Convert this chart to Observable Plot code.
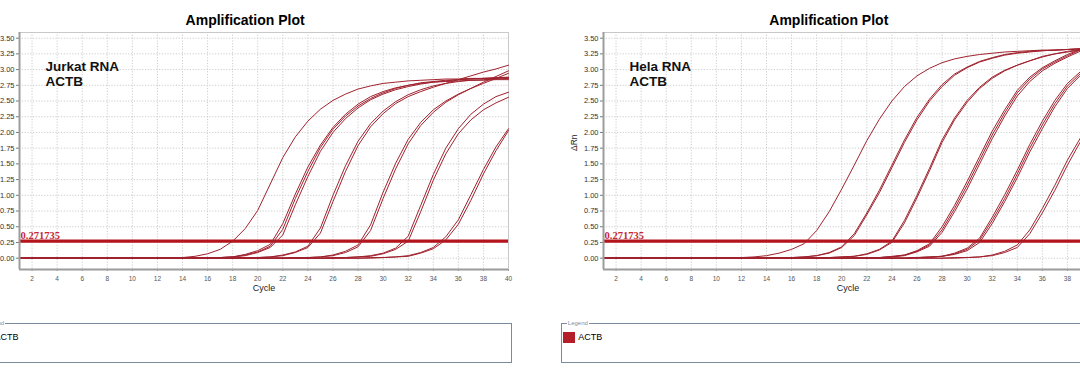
<!DOCTYPE html>
<html>
<head>
<meta charset="utf-8">
<script src="https://cdn.jsdelivr.net/npm/d3@7"></script>
<script src="https://cdn.jsdelivr.net/npm/@observablehq/plot@0.6"></script>
<style>
  html, body { margin: 0; padding: 0; background: #fff; }
  body { width: 1080px; height: 373px; overflow: hidden; position: relative; font-family: "Liberation Sans", Arial, sans-serif; }
  .panel { position: absolute; top: 0; width: 545px; height: 373px; }
  .panel svg { position: absolute; left: 0; top: 0; }
  .title { position: absolute; top: 13px; width: 240px; margin-left: -120px; text-align: center; font-weight: bold; font-size: 14px; line-height: 14px; color: #000; }
  .legend { position: absolute; top: 323px; width: 535px; height: 40px; box-sizing: border-box; border: 1px solid #7b8b9b; background: #fff; }
  .legend .cap { position: absolute; left: 5px; top: -5px; font-size: 6px; line-height: 8px; color: #7f8f9f; background: #fff; padding: 0 1px; }
  .legend .swatch { position: absolute; left: 1.5px; top: 7.5px; width: 11.5px; height: 11.5px; background: #b41e28; }
  .legend .name { position: absolute; left: 16.5px; top: 8px; font-size: 9px; line-height: 11px; color: #000; }
</style>
</head>
<body>
<script>
// ---- data ----
const cycles = [1,2,3,4,5,6,7,8,9,10,11,12,13,14,15,16,17,18,19,20,21,22,23,24,25,26,27,28,29,30,31,32,33,34,35,36,37,38,39,40];
const xTicks = [2,4,6,8,10,12,14,16,18,20,22,24,26,28,30,32,34,36,38,40];
const yTicks = [0,0.25,0.5,0.75,1,1.25,1.5,1.75,2,2.25,2.5,2.75,3,3.25,3.5];
const threshold = 0.271735;
const panelTitle = "Amplification Plot";
const xLabel = "Cycle";
const yLabel = "ΔRn";
const target = "ACTB";
const legendCaption = "Legend";
const labelJurkat = ["Jurkat RNA", "ACTB"];
const labelHela = ["Hela RNA", "ACTB"];

// Jurkat RNA, ACTB — ΔRn per cycle (1..40)
const jurkat01 = [0,0,0,0,0,0,0,0,0,0, 0,0,0.01,0.01,0.03,0.07,0.14,0.27,0.47,0.76, 1.18,1.60,1.93,2.18,2.37,2.51,2.61,2.69,2.74,2.78, 2.80,2.82,2.83,2.84,2.85,2.85,2.86,2.86,2.87,2.87];
const jurkat02 = [0,0,0,0,0,0,0,0,0,0, 0,0,0,0,0,0.01,0.01,0.02,0.06,0.12, 0.22,0.55,1.02,1.45,1.80,2.08,2.29,2.45,2.57,2.65, 2.71,2.75,2.78,2.80,2.81,2.82,2.83,2.83,2.84,2.84];
const jurkat03 = [0,0,0,0,0,0,0,0,0,0, 0,0,0,0,0,0.01,0.01,0.02,0.05,0.10, 0.19,0.46,0.95,1.38,1.76,2.05,2.26,2.42,2.54,2.63, 2.70,2.75,2.79,2.81,2.83,2.84,2.85,2.86,2.86,2.87];
const jurkat04 = [0,0,0,0,0,0,0,0,0,0, 0,0,0,0,0,0.01,0.01,0.02,0.04,0.09, 0.17,0.37,0.85,1.30,1.70,2.00,2.22,2.39,2.52,2.61, 2.68,2.73,2.77,2.80,2.82,2.84,2.85,2.86,2.87,2.88];
const jurkat05 = [0,0,0,0,0,0,0,0,0,0, 0,0,0,0,0,0,0,0,0.01,0.01, 0.02,0.05,0.10,0.19,0.48,1.00,1.47,1.86,2.14,2.34, 2.49,2.60,2.68,2.74,2.78,2.81,2.83,2.84,2.85,2.86];
const jurkat06 = [0,0,0,0,0,0,0,0,0,0, 0,0,0,0,0,0,0,0,0.01,0.01, 0.02,0.04,0.09,0.17,0.40,0.90,1.38,1.79,2.09,2.30, 2.46,2.57,2.65,2.72,2.78,2.84,2.90,2.96,3.01,3.07];
const jurkat07 = [0,0,0,0,0,0,0,0,0,0, 0,0,0,0,0,0,0,0,0,0, 0,0,0.01,0.01,0.02,0.05,0.11,0.21,0.53,1.05, 1.51,1.89,2.16,2.36,2.50,2.61,2.70,2.78,2.86,2.94];
const jurkat08 = [0,0,0,0,0,0,0,0,0,0, 0,0,0,0,0,0,0,0,0,0, 0,0,0.01,0.01,0.02,0.04,0.09,0.18,0.44,0.95, 1.42,1.82,2.11,2.32,2.48,2.60,2.70,2.80,2.89,2.98];
const jurkat09 = [0,0,0,0,0,0,0,0,0,0, 0,0,0,0,0,0,0,0,0,0, 0,0,0,0,0,0.01,0.01,0.02,0.04,0.08, 0.16,0.35,0.84,1.33,1.75,2.06,2.29,2.45,2.57,2.64];
const jurkat10 = [0,0,0,0,0,0,0,0,0,0, 0,0,0,0,0,0,0,0,0,0, 0,0,0,0,0,0,0.01,0.02,0.03,0.07, 0.14,0.27,0.74,1.24,1.66,1.98,2.20,2.36,2.47,2.56];
const jurkat11 = [0,0,0,0,0,0,0,0,0,0, 0,0,0,0,0,0,0,0,0,0, 0,0,0,0,0,0,0,0,0.01,0.01, 0.02,0.04,0.09,0.17,0.34,0.61,1.01,1.41,1.77,2.06];
const jurkat12 = [0,0,0,0,0,0,0,0,0,0, 0,0,0,0,0,0,0,0,0,0, 0,0,0,0,0,0,0,0,0,0.01, 0.02,0.03,0.08,0.15,0.29,0.54,0.92,1.34,1.71,2.03];

// Hela RNA, ACTB — ΔRn per cycle (1..40)
const hela01 = [0,0,0,0,0,0,0,0,0,0.01, 0.01,0.01,0.02,0.04,0.08,0.14,0.23,0.44,0.74,1.10, 1.48,1.87,2.21,2.50,2.73,2.90,3.02,3.11,3.17,3.21, 3.24,3.26,3.28,3.29,3.30,3.31,3.31,3.32,3.33,3.33];
const hela02 = [0,0,0,0,0,0,0,0,0,0, 0,0,0,0,0.01,0.01,0.02,0.04,0.09,0.18, 0.39,0.72,1.08,1.48,1.88,2.24,2.53,2.76,2.93,3.04, 3.13,3.19,3.24,3.27,3.29,3.30,3.31,3.32,3.33,3.33];
const hela03 = [0,0,0,0,0,0,0,0,0,0, 0,0,0,0,0.01,0.01,0.02,0.04,0.08,0.17, 0.36,0.69,1.04,1.44,1.84,2.20,2.50,2.73,2.91,3.03, 3.12,3.18,3.23,3.26,3.28,3.30,3.31,3.32,3.33,3.34];
const hela04 = [0,0,0,0,0,0,0,0,0,0, 0,0,0,0,0,0,0,0,0.01,0.02, 0.03,0.07,0.14,0.27,0.60,1.00,1.43,1.88,2.23,2.51, 2.72,2.88,2.99,3.07,3.14,3.21,3.25,3.28,3.31,3.33];
const hela05 = [0,0,0,0,0,0,0,0,0,0, 0,0,0,0,0,0,0,0,0.01,0.02, 0.03,0.06,0.13,0.25,0.56,0.96,1.39,1.84,2.20,2.48, 2.70,2.86,2.98,3.07,3.14,3.20,3.25,3.29,3.32,3.34];
const hela06 = [0,0,0,0,0,0,0,0,0,0, 0,0,0,0,0,0,0,0,0,0, 0,0.01,0.01,0.03,0.05,0.12,0.23,0.50,0.84,1.22, 1.62,2.02,2.36,2.67,2.88,3.03,3.14,3.24,3.32,3.36];
const hela07 = [0,0,0,0,0,0,0,0,0,0, 0,0,0,0,0,0,0,0,0,0, 0,0.01,0.01,0.02,0.05,0.11,0.21,0.45,0.79,1.16, 1.56,1.96,2.31,2.63,2.85,3.01,3.12,3.22,3.31,3.35];
const hela08 = [0,0,0,0,0,0,0,0,0,0, 0,0,0,0,0,0,0,0,0,0, 0,0.01,0.01,0.02,0.04,0.10,0.19,0.41,0.74,1.10, 1.50,1.90,2.26,2.58,2.81,2.98,3.10,3.20,3.29,3.34];
const hela09 = [0,0,0,0,0,0,0,0,0,0, 0,0,0,0,0,0,0,0,0,0, 0,0,0,0,0,0.01,0.02,0.03,0.08,0.16, 0.32,0.65,1.01,1.40,1.81,2.18,2.51,2.78,2.96,3.08];
const hela10 = [0,0,0,0,0,0,0,0,0,0, 0,0,0,0,0,0,0,0,0,0, 0,0,0,0,0,0.01,0.02,0.03,0.07,0.14, 0.29,0.60,0.95,1.34,1.75,2.12,2.46,2.74,2.93,3.06];
const hela11 = [0,0,0,0,0,0,0,0,0,0, 0,0,0,0,0,0,0,0,0,0, 0,0,0,0,0,0.01,0.01,0.03,0.06,0.12, 0.25,0.55,0.90,1.28,1.69,2.06,2.41,2.70,2.90,3.03];
const hela12 = [0,0,0,0,0,0,0,0,0,0, 0,0,0,0,0,0,0,0,0,0, 0,0,0,0,0,0,0,0,0.01,0.01, 0.02,0.05,0.11,0.21,0.45,0.79,1.16,1.56,1.90,2.28];
const hela13 = [0,0,0,0,0,0,0,0,0,0, 0,0,0,0,0,0,0,0,0,0, 0,0,0,0,0,0,0,0,0,0.01, 0.02,0.04,0.09,0.17,0.39,0.72,1.08,1.48,1.84,2.20];

const jurkatWells = [jurkat01, jurkat02, jurkat03, jurkat04, jurkat05, jurkat06, jurkat07, jurkat08, jurkat09, jurkat10, jurkat11, jurkat12];
const helaWells = [hela01, hela02, hela03, hela04, hela05, hela06, hela07, hela08, hela09, hela10, hela11, hela12, hela13];

// ---- drawing ----
const curveColor = "#a0222e";
const thresholdColor = "#b5141c";
const gridStyle = {stroke: "#cccccc", strokeOpacity: 1, strokeDasharray: "1.2,1.6"};

function tableOf(wells) {
  return wells.flatMap((vals, w) => vals.map((v, i) => ({cycle: cycles[i], dRn: v, well: w})));
}

function drawPanel(wells, label, leftPx) {
  const yMin = -0.18;
  const chart = Plot.plot({
    width: 545, height: 300,
    marginLeft: 45, marginRight: 11, marginTop: 32, marginBottom: 31,
    style: {fontFamily: "'Liberation Sans', Arial, sans-serif", background: "transparent", color: "#333", overflow: "visible"},
    x: {domain: [cycles[0], cycles[cycles.length - 1]]},
    y: {domain: [yMin, 3.59]},
    marks: [
      Plot.gridY(yTicks, gridStyle),
      Plot.gridX(xTicks, gridStyle),
      Plot.frame({stroke: "#c9c9c9"}),
      Plot.ruleY([threshold], {stroke: thresholdColor, strokeWidth: 3.2}),
      Plot.line(tableOf(wells), {x: "cycle", y: "dRn", z: "well", stroke: curveColor, strokeWidth: 1}),
      Plot.text([threshold], {x: cycles[0], y: d => d, text: d => String(d), textAnchor: "start", lineAnchor: "middle", dx: 1, dy: -5, fontFamily: "'Liberation Serif', 'Times New Roman', serif", fontWeight: "bold", fontSize: 10.5, fill: "#c62830"}),
      Plot.text([label.join("\n")], {text: d => d, frameAnchor: "top-left", dx: 26, dy: 27.7, textAnchor: "start", lineAnchor: "top", lineHeight: 1.11, fontSize: 13.5, fontWeight: "bold", fill: "#111"}),
      Plot.axisY(yTicks, {tickFormat: d3.format(".2f"), fontSize: 7.5, tickSize: 3, tickPadding: 2, label: null, stroke: "#777", fill: "#333"}),
      Plot.axisX(xTicks, {tickFormat: d => String(d), fontSize: 6.5, tickSize: 2, tickPadding: 4.5, label: null, stroke: "#999", fill: "#555"}),
      Plot.text([xLabel], {text: d => d, frameAnchor: "bottom", dy: 21.5, fontSize: 9, fill: "#222"}),
      Plot.text([yLabel], {text: d => d, frameAnchor: "left", dx: -29.5, rotate: -90, fontSize: 8.5, fill: "#222"}),
      Plot.ruleX([cycles[0]], {stroke: "#9c9c9c", strokeWidth: 2}),
      Plot.ruleY([yMin], {stroke: "#9c9c9c", strokeWidth: 2})
    ]
  });

  const panel = document.createElement("div");
  panel.className = "panel";
  panel.style.left = leftPx + "px";
  panel.appendChild(chart);

  const title = document.createElement("div");
  title.className = "title";
  title.style.left = "271px";
  title.textContent = panelTitle;
  panel.appendChild(title);

  const legend = document.createElement("div");
  legend.className = "legend";
  legend.style.left = "3px";
  legend.innerHTML = `<span class="cap">${legendCaption}</span><span class="swatch"></span><span class="name">${target}</span>`;
  panel.appendChild(legend);

  document.body.appendChild(panel);
}

drawPanel(jurkatWells, labelJurkat, -25.9);
drawPanel(helaWells, labelHela, 557.8);
</script>
</body>
</html>
